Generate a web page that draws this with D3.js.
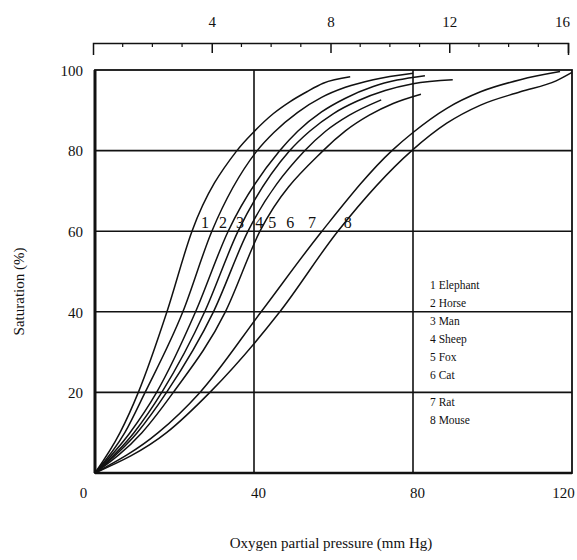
<!DOCTYPE html>
<html>
<head>
<meta charset="utf-8">
<script src="https://cdn.jsdelivr.net/npm/d3@7/dist/d3.min.js"></script>
<style>
  html, body { margin: 0; padding: 0; background: #fff; }
  svg { display: block; }
  text { font-family: "Liberation Serif", "DejaVu Serif", serif; fill: #111; }
</style>
</head>
<body>
<svg id="chart" width="577" height="560"></svg>
<script>
// ---- data ----
const species = ["Elephant", "Horse", "Man", "Sheep", "Fox", "Cat", "Rat", "Mouse"];
// [oxygen partial pressure (mm Hg), saturation (%)]
const elephant = [[0,0],[6.3,10],[10.9,20],[18.1,40],[24.4,60],[35.7,80],[40,84.7],[44.9,89.2],[49,92.1],[53.3,94.6],[57.4,96.7],[64.2,98.3]];
const horse    = [[0,0],[7.5,10],[12.6,20],[22.1,40],[29.4,60],[40.8,80],[45,84.5],[51,89.5],[57,93.2],[63,95.7],[70,97.6],[80,99.2]];
const man      = [[0,0],[8.8,10],[15.5,20],[25.3,40],[33.5,60],[46.5,80],[51,84.8],[57,89.6],[63,93],[70,95.9],[76,97.5],[83,98.6]];
const sheep    = [[0,0],[9.8,10],[16.8,20],[27.6,40],[36,60],[49,80],[54,84.8],[60,89.2],[66,92.3],[73,94.9],[80,96.6],[90,97.6]];
const fox      = [[0,0],[10.6,10],[18,20],[29.8,40],[38.5,60],[52.8,80],[58,84.8],[64,88.8],[72,92.6]];
const cat      = [[0,0],[11.8,10],[19.7,20],[32.8,40],[41.5,60],[57.4,80],[63,84.9],[69,88.8],[75,91.7],[82,94]];
const rat      = [[0,0],[15.9,10],[26.4,20],[41.8,40],[57.1,60],[74.7,80],[80,84.5],[88.5,90.5],[97,94.6],[107,97.6],[117,99.6]];
const mouse    = [[0,0],[18,10],[28.9,20],[46.5,40],[61.1,60],[79.7,80],[88.5,86.8],[97,91.3],[107,94.6],[116,97.3],[120,99.4]];
const curves = [elephant, horse, man, sheep, fox, cat, rat, mouse];
// curve number labels placed along the 60 % line (pressure, mm Hg)
const labelPressure = [27.7, 32.2, 36.5, 41.3, 44.6, 49.1, 54.6, 63.6];
const labelSaturation = 60.5;
const xTicks = [0, 40, 80, 120];
const yTicks = [20, 40, 60, 80, 100];
const kPaTicks = [4, 8, 12, 16];
const kPaMinor = [1,2,3,5,6,7,9,10,11,13,14,15];

// ---- layout ----
const svg = d3.select("#chart");
const x = d3.scaleLinear().domain([0, 120]).range([95, 572]);
const y = d3.scaleLinear().domain([0, 100]).range([473, 70]);
const k = d3.scaleLinear().domain([0, 16]).range([93, 568]);

// grid lines
const grid = svg.append("g").attr("stroke", "#111").attr("stroke-width", 1.6);
grid.selectAll("line.v").data([40, 80]).join("line")
  .attr("class", "v")
  .attr("x1", d => x(d)).attr("x2", d => x(d)).attr("y1", y(100)).attr("y2", y(0));
grid.selectAll("line.h").data([20, 40, 60, 80]).join("line")
  .attr("class", "h")
  .attr("x1", x(0)).attr("x2", x(120)).attr("y1", d => y(d)).attr("y2", d => y(d));

// frame
svg.append("rect")
  .attr("x", x(0)).attr("y", y(100))
  .attr("width", x(120) - x(0)).attr("height", y(0) - y(100))
  .attr("fill", "none").attr("stroke", "#111").attr("stroke-width", 1.8);
svg.append("line").attr("x1", x(0)).attr("x2", x(0)).attr("y1", y(100)).attr("y2", y(0))
  .attr("stroke", "#111").attr("stroke-width", 3);
svg.append("line").attr("x1", x(0)).attr("x2", x(120)).attr("y1", y(0)).attr("y2", y(0))
  .attr("stroke", "#111").attr("stroke-width", 2.4);

// curves
const line = d3.line().x(d => x(d[0])).y(d => y(d[1])).curve(d3.curveMonotoneX);
svg.append("g").selectAll("path").data(curves).join("path")
  .attr("d", line).attr("fill", "none").attr("stroke", "#111").attr("stroke-width", 1.5);

// curve numbers
svg.append("g").selectAll("text").data(labelPressure).join("text")
  .attr("x", d => x(d)).attr("y", y(labelSaturation) - 1)
  .attr("text-anchor", "middle").attr("font-size", 16)
  .text((d, i) => i + 1);

// legend
const legY = [289, 307, 325, 343, 361, 379, 406, 424];
const leg = svg.append("g").attr("font-size", 11.5);
leg.selectAll("text").data(species).join("text")
  .attr("x", 430).attr("y", (d, i) => legY[i])
  .text((d, i) => (i + 1) + " " + d);

// left axis
const yAxis = svg.append("g").attr("transform", `translate(${x(0) - 12},0)`)
  .call(d3.axisLeft(y).tickValues(yTicks).tickSize(0).tickPadding(0));
yAxis.select(".domain").remove();
yAxis.selectAll("text").attr("font-size", 15).attr("font-family", "Liberation Serif, serif").attr("dy", "0.35em");

// bottom axis
const xAxis = svg.append("g").attr("transform", `translate(0,${y(0)})`)
  .call(d3.axisBottom(x).tickValues(xTicks).tickSize(0).tickPadding(14));
xAxis.select(".domain").remove();
xAxis.selectAll("text").attr("font-size", 15).attr("font-family", "Liberation Serif, serif")
  .attr("dx", d => d === 0 ? -12 : (d === 120 ? -9 : 4));

// top kPa axis
const topAxis = svg.append("g").attr("transform", "translate(0,43)");
topAxis.call(d3.axisTop(k).tickValues(kPaTicks).tickSize(-10).tickSizeOuter(-12).tickPadding(16));
topAxis.selectAll("text").attr("font-size", 15).attr("font-family", "Liberation Serif, serif")
  .attr("dx", d => d === 16 ? -6 : 0);
topAxis.selectAll("path, line").attr("stroke", "#111").attr("stroke-width", 1.5);
topAxis.append("g").selectAll("line").data(kPaMinor).join("line")
  .attr("x1", d => k(d)).attr("x2", d => k(d)).attr("y1", 0).attr("y2", 4)
  .attr("stroke", "#111").attr("stroke-width", 1.2);

// axis titles
svg.append("text")
  .attr("transform", `translate(24,${(y(0) + y(100)) / 2 + 20}) rotate(-90)`)
  .attr("text-anchor", "middle").attr("font-size", 15)
  .text("Saturation (%)");
svg.append("text")
  .attr("x", 331).attr("y", 548)
  .attr("text-anchor", "middle").attr("font-size", 15)
  .text("Oxygen partial pressure (mm Hg)");
</script>
</body>
</html>
